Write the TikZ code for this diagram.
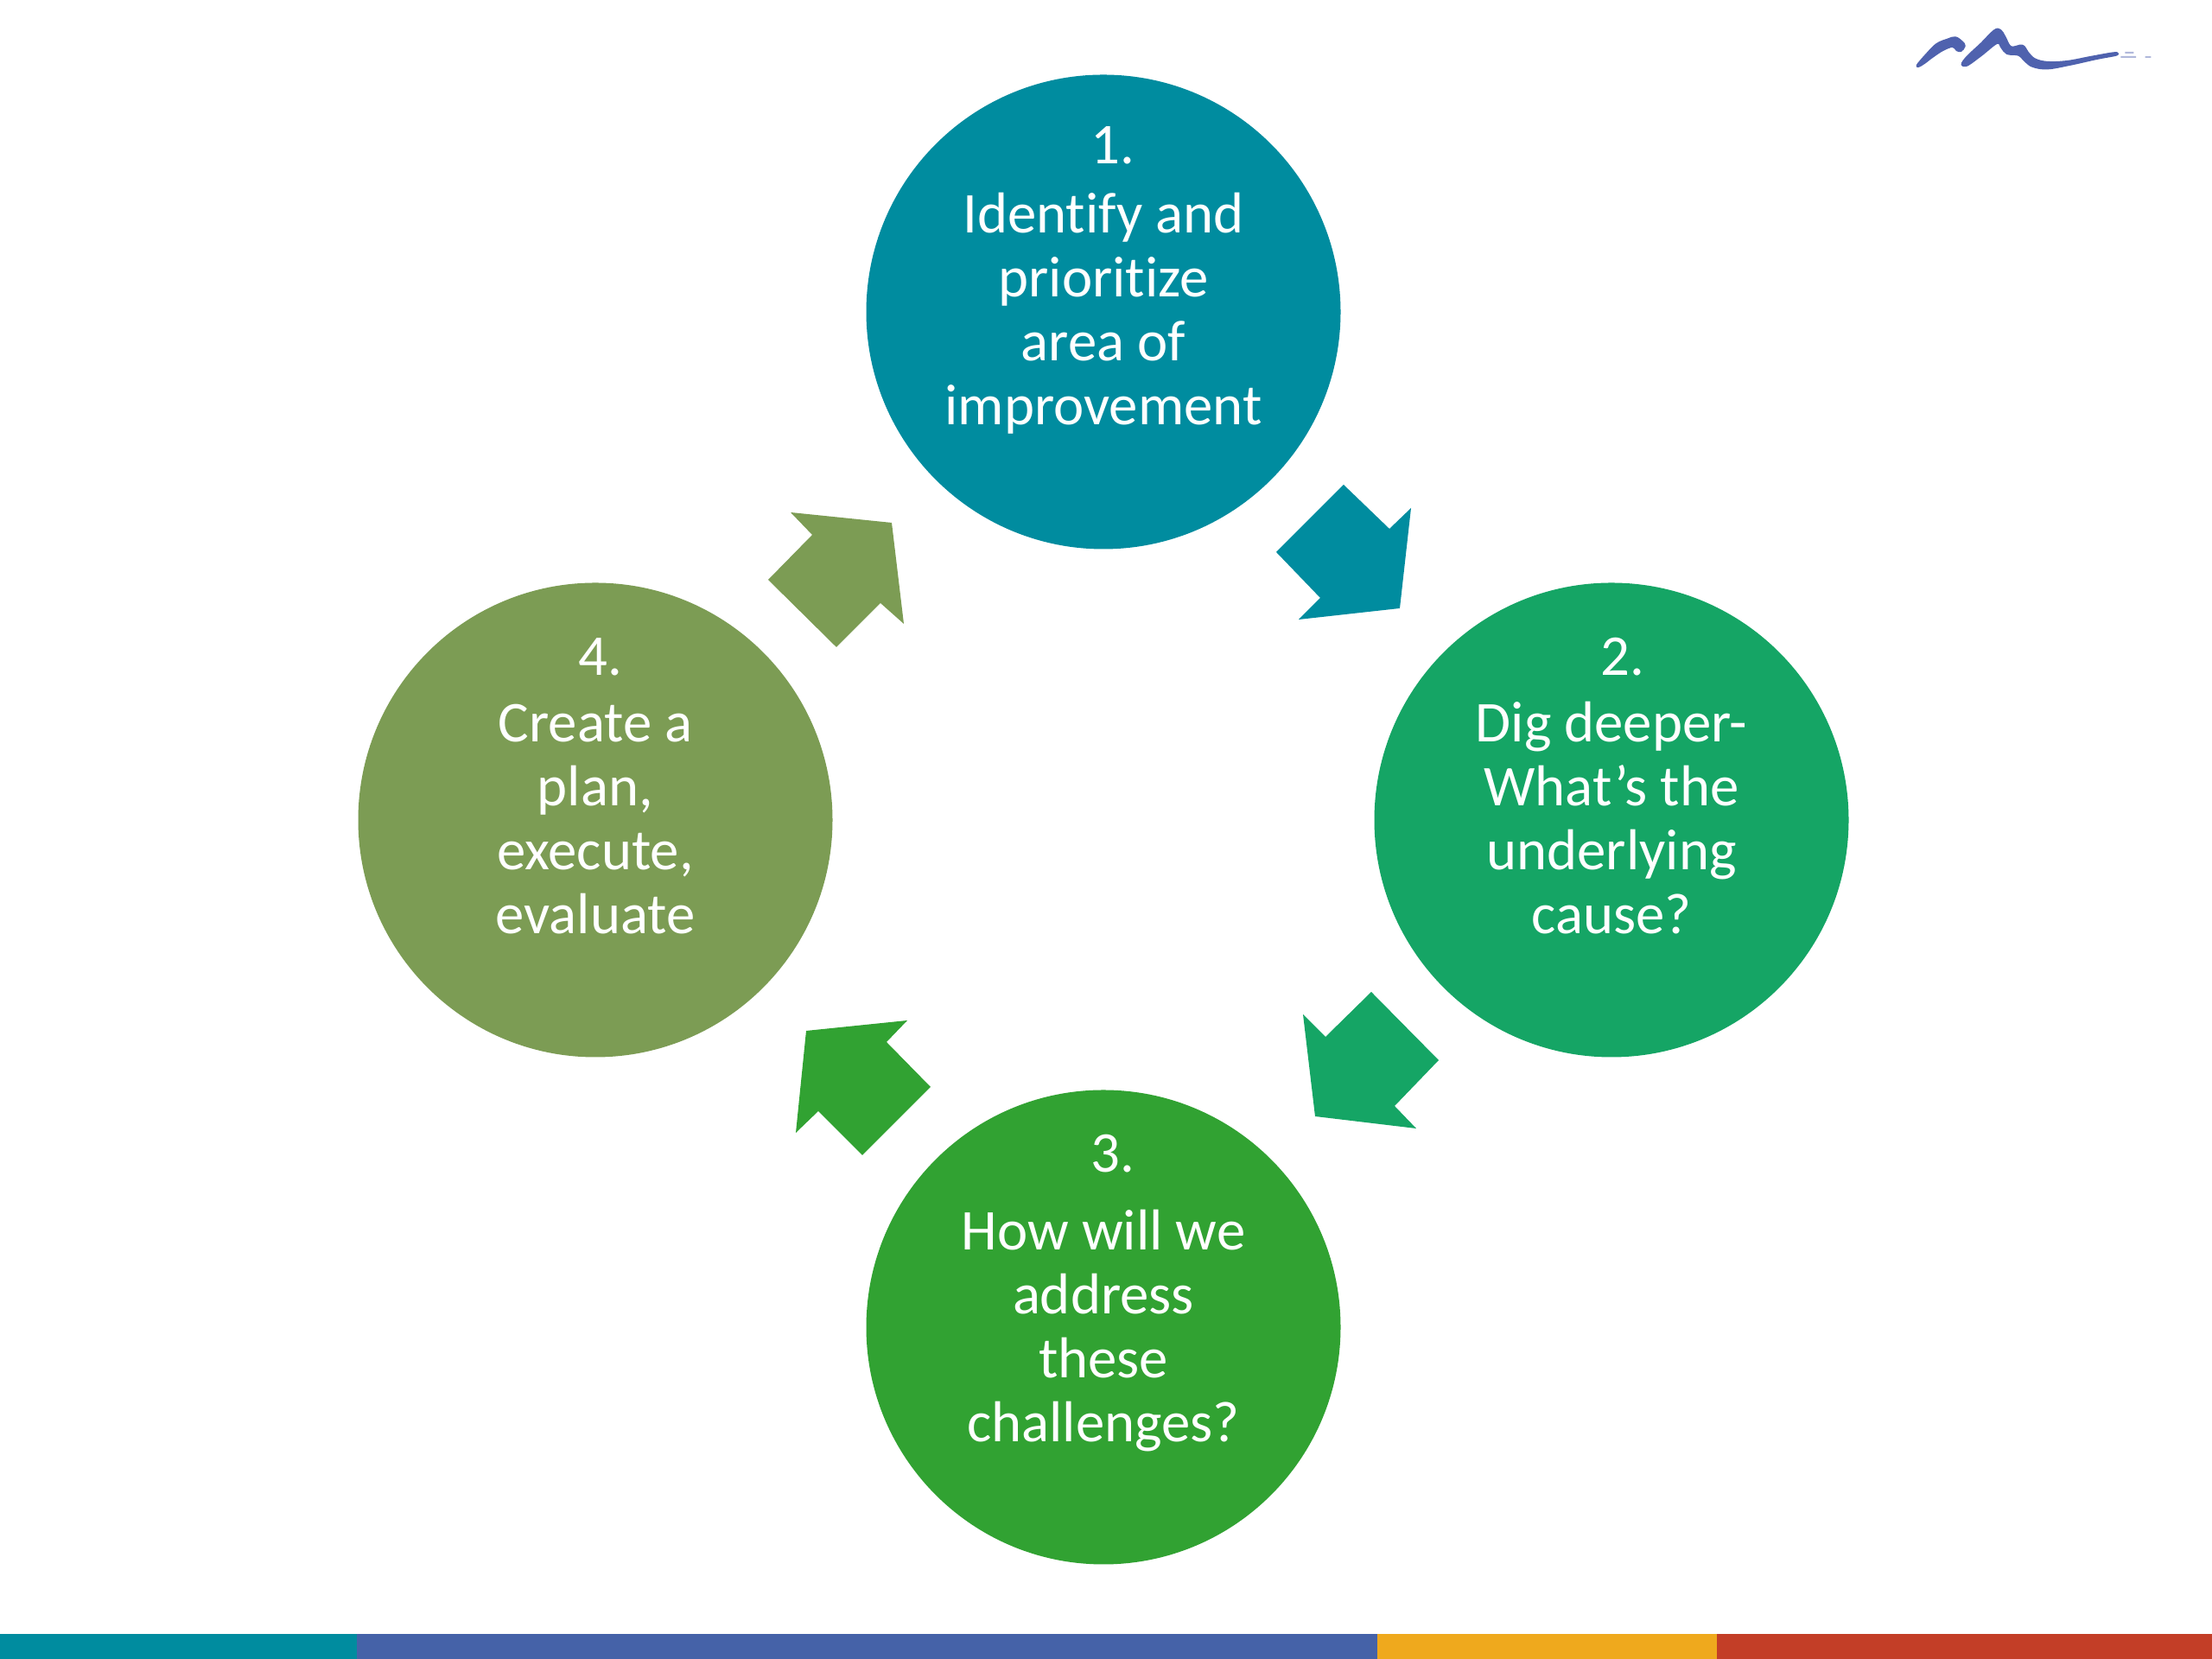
\documentclass[tikz,border=0pt]{standalone}
\usepackage{fontspec}
\setmainfont{Carlito}[Ligatures=NoCommon]
\definecolor{tealc}{HTML}{008C9F}
\definecolor{greena}{HTML}{15A565}
\definecolor{greenb}{HTML}{31A232}
\definecolor{olive}{HTML}{7C9C54}
\definecolor{bluebar}{HTML}{4562A8}
\definecolor{amberbar}{HTML}{EFA91D}
\definecolor{redbar}{HTML}{C33E27}
\definecolor{logoblue}{HTML}{4F62AE}
\begin{document}
\begin{tikzpicture}[
    stage/.style={circle, minimum size=5.49cm, inner sep=0pt, outer sep=0pt},
    stagetext/.style={align=center, anchor=base, text=white, font=\fontsize{19}{21.1}\selectfont},
    stagenum/.style={anchor=base, text=white, font=\fontsize{19}{21.1}\selectfont},
    blockarrow/.style={draw=none},
    barpart/.style={draw=none, minimum height=0.285cm, inner sep=0pt, outer sep=0pt, anchor=south west},
    logostroke/.style={fill=logoblue, draw=logoblue, line width=0.9pt, line join=round},
]
\useasboundingbox (0,0) rectangle (25.6,19.2);

% bottom bar
\node[barpart,fill=tealc,minimum width=4.13cm] (BARA) at (0,0) {};
\node[barpart,fill=bluebar,minimum width=11.81cm] (BARB) at (4.13,0) {};
\node[barpart,fill=amberbar,minimum width=3.93cm] (BARC) at (15.94,0) {};
\node[barpart,fill=redbar,minimum width=5.73cm] (BARD) at (19.87,0) {};

% circles
\node[stage,fill=tealc] (IDENT) at (12.77,15.59) {};
\node[stage,fill=greena] (DIG) at (18.65,9.71) {};
\node[stage,fill=greenb] (PLAN) at (12.77,3.84) {};
\node[stage,fill=olive] (EXEC) at (6.89,9.71) {};

% texts
\node[stagenum] (NUMA) at (12.88,17.30) {1.};
\node[stagetext] (TXTA) at (12.77,14.28) {Identify and\\prioritize\\area of\\improvement};
\node[stagenum] (NUMB) at (18.78,11.38) {2.};
\node[stagetext] (TXTB) at (18.65,8.39) {Dig deeper-\\What’s the\\underlying\\cause?};
\node[stagenum] (NUMC) at (12.88,5.63) {3.};
\node[stagetext] (TXTC) at (12.77,2.51) {How will we\\address\\these\\challenges?};
\node[stagenum] (NUMD) at (6.95,11.38) {4.};
\node[stagetext] (TXTD) at (6.89,8.39) {Create a\\plan,\\execute,\\evaluate};

% arrows
\fill[blockarrow,tealc] (15.55,13.59) -- (16.08,13.08) -- (16.33,13.32) -- (16.20,12.16) -- (15.03,12.03) -- (15.28,12.28) -- (14.77,12.81) -- cycle;
\fill[blockarrow,greena] (15.87,7.72) -- (16.65,6.93) -- (16.14,6.40) -- (16.39,6.14) -- (15.22,6.28) -- (15.08,7.46) -- (15.34,7.20) -- cycle;
\fill[blockarrow,greenb] (10.50,7.39) -- (10.26,7.14) -- (10.77,6.62) -- (9.98,5.83) -- (9.47,6.34) -- (9.21,6.09) -- (9.33,7.27) -- cycle;
\fill[blockarrow,olive] (9.15,13.27) -- (10.32,13.15) -- (10.46,11.98) -- (10.19,12.22) -- (9.68,11.71) -- (8.89,12.49) -- (9.40,13.01) -- cycle;

% logo
\begin{scope}[shift={(21.8,19.1)},x=0.003333cm,y=-0.003333cm]
\path[logostroke] plot[smooth cycle,tension=0.6] coordinates {(118,198) (150,160) (185,125) (225,108) (250,102) (272,117) (280,130) (268,146) (255,143) (240,130) (205,143) (170,166) (135,192)};
\path[logostroke] plot[smooth cycle,tension=0.6] coordinates {(275,190) (295,165) (340,123) (385,78) (405,76) (420,98) (442,135) (482,130) (500,153) (525,177) (570,188) (640,185) (720,170) (800,156) (808,160) (740,173) (650,193) (570,207) (520,200) (495,183) (470,160) (430,155) (412,135) (395,118) (340,160) (295,193) (278,197)};
\fill[logoblue!45] (840,150) rectangle (870,156) (825,165) rectangle (878,171) (910,166) rectangle (930,171);
\end{scope}
\end{tikzpicture}
\end{document}
